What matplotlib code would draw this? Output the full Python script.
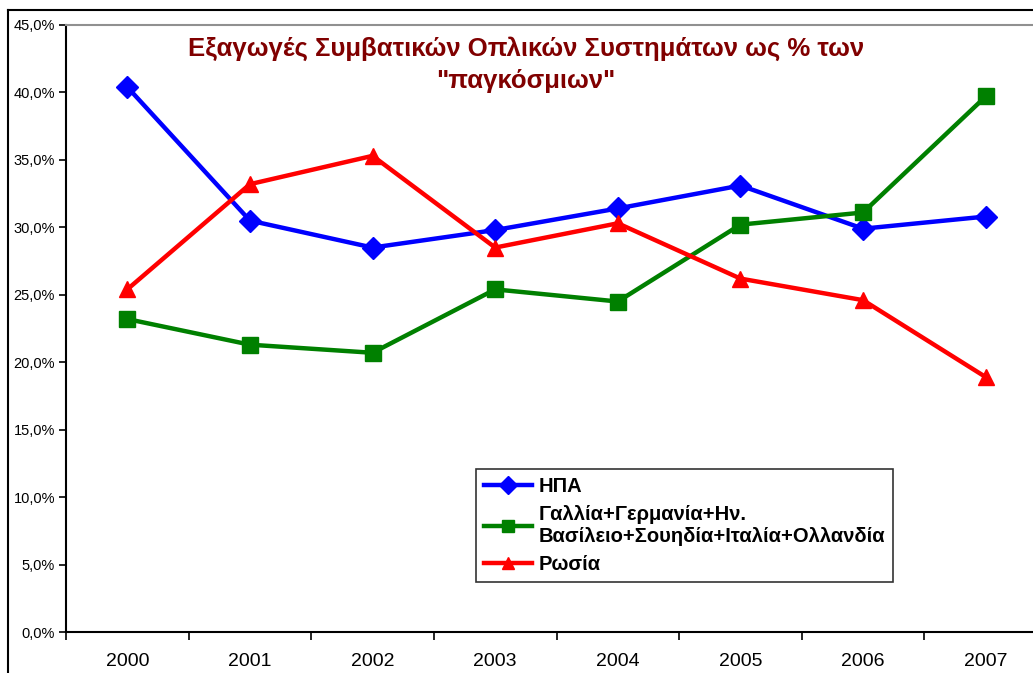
import matplotlib.pyplot as plt
import matplotlib as mpl
import numpy as np
from matplotlib.lines import Line2D

mpl.rcParams['font.family'] = ['Liberation Sans', 'DejaVu Sans']

# δεδομένα (εκτίμηση από το γράφημα)
years = ['2000', '2001', '2002', '2003', '2004', '2005', '2006', '2007']
usa = [40.4, 30.5, 28.5, 29.8, 31.4, 33.1, 29.9, 30.8]
europe = [23.2, 21.3, 20.7, 25.4, 24.5, 30.2, 31.1, 39.7]
russia = [25.4, 33.2, 35.3, 28.5, 30.3, 26.2, 24.6, 18.9]

labels = ['ΗΠΑ',
          'Γαλλία+Γερμανία+Ην.\nΒασίλειο+Σουηδία+Ιταλία+Ολλανδία',
          'Ρωσία']
title = 'Εξαγωγές Συμβατικών Οπλικών Συστημάτων ως % των\n"παγκόσμιων"'

W, H = 1033, 673
fig = plt.figure(figsize=(W / 100, H / 100), dpi=100)
ax = fig.add_axes([66 / W, 41 / H, 981 / W, 607 / H])

x = np.arange(len(years))
ax.plot(x, usa, color='#0000ff', lw=3.2, marker='D', ms=11, label=labels[0])
ax.plot(x, europe, color='#008000', lw=3.2, marker='s', ms=11, label=labels[1])
ax.plot(x, russia, color='#ff0000', lw=3.2, marker='^', ms=12, label=labels[2])

ax.set_xlim(-0.5, len(years) - 0.5)
ax.set_ylim(0, 45)
ax.set_yticks(np.arange(0, 46, 5))
ax.set_yticklabels([f'{v:.1f}%'.replace('.', ',') for v in np.arange(0, 46, 5)])
ax.tick_params(axis='y', direction='out', length=5, width=1.2, labelsize=10.5, pad=3)

# ticks ανάμεσα στις κατηγορίες, ετικέτες στο κέντρο
ax.set_xticks(np.arange(-0.5, len(years), 1))
ax.set_xticklabels([])
ax.set_xticks(x, minor=True)
ax.set_xticklabels(years, minor=True)
ax.tick_params(axis='x', which='major', direction='out', length=6, width=1.2)
ax.tick_params(axis='x', which='minor', length=0, labelsize=14, pad=15)

for s in ['left', 'bottom']:
    ax.spines[s].set_color('black')
    ax.spines[s].set_linewidth(1.5)
ax.spines['top'].set_color('#909090')
ax.spines['top'].set_linewidth(1.5)
ax.spines['right'].set_color('#909090')

ax.text(0.469, 0.982, title, transform=ax.transAxes, ha='center', va='top',
        fontsize=18.5, fontweight='bold', color='#800000', linespacing=1.45)

leg = ax.legend(loc='upper left', bbox_to_anchor=(410 / 981, 163 / 607),
                frameon=True, fancybox=False, edgecolor='black',
                prop={'weight': 'bold', 'size': 14.5}, handlelength=2.4,
                borderpad=0.4, labelspacing=0.45, handletextpad=0.3,
                borderaxespad=0)
leg.get_frame().set_linewidth(1.2)
for h in leg.legend_handles:
    h.set_markersize(9)

# εξωτερικό πλαίσιο γραφήματος
fig.add_artist(Line2D([8 / W, 8 / W], [0, 1 - 10 / H], color='black', lw=1.5))
fig.add_artist(Line2D([8 / W, 1], [1 - 10 / H, 1 - 10 / H], color='black', lw=1.5))

fig.savefig('out.png', dpi=100)
